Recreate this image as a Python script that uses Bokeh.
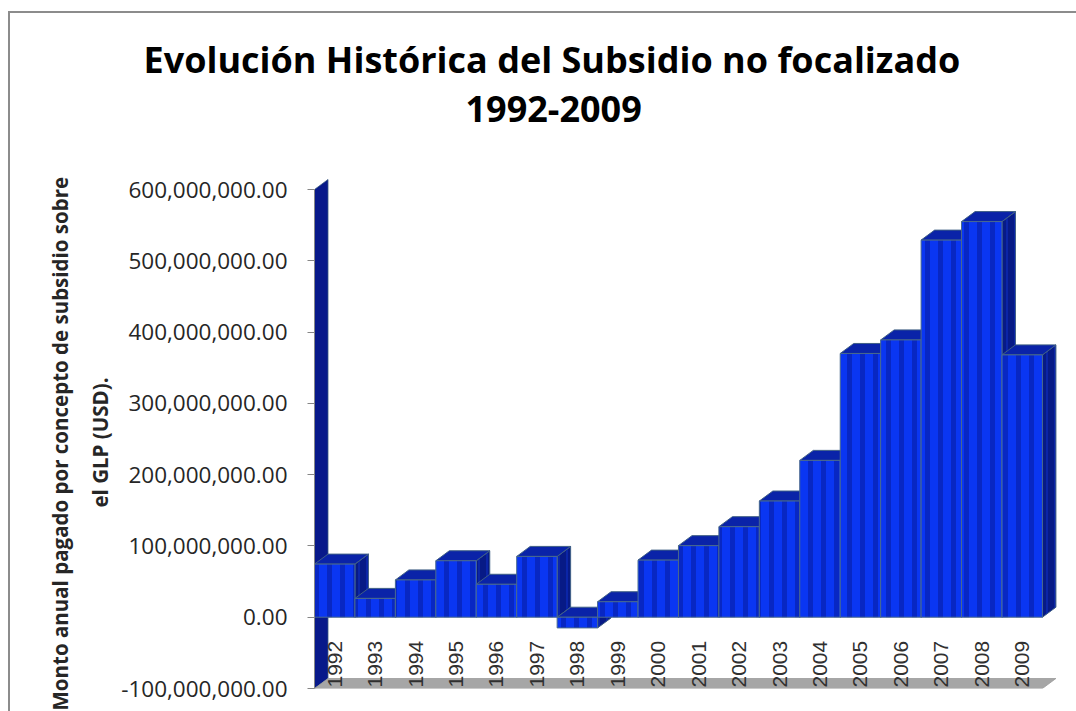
import numpy as np
from math import pi
from bokeh.plotting import figure
from bokeh.models import Range1d, FixedTicker, NumeralTickFormatter, Title
from bokeh.core.properties import value
from bokeh.embed import file_html
from bokeh.resources import INLINE

# ---------------- data ----------------
years = ["1992", "1993", "1994", "1995", "1996", "1997", "1998", "1999", "2000",
         "2001", "2002", "2003", "2004", "2005", "2006", "2007", "2008", "2009"]
subsidy_usd = [74.5e6, 26.4e6, 52.3e6, 79.2e6, 46.2e6, 85.3e6, -15.0e6, 21.7e6, 80.1e6,
               100.4e6, 127.0e6, 163.0e6, 220.0e6, 370.0e6, 389.0e6, 529.0e6, 555.0e6, 368.0e6]
y_ticks = [-100e6, 0, 100e6, 200e6, 300e6, 400e6, 500e6, 600e6]
title_line1 = "Evolución Histórica del Subsidio no focalizado"
title_line2 = "1992-2009"
y_title_line1 = "Monto anual pagado por concepto de subsidio sobre"
y_title_line2 = "el GLP (USD)."

# ---------------- geometry (layout only) ----------------
FRAME_LEFT, FRAME_TOP, FRAME_BOTTOM = 312, 124, 686   # window pixels
FRAME_W, FRAME_H = 748, FRAME_BOTTOM - FRAME_TOP
PX_PER_CAT = 40.44
PX_PER_VAL = 499.0 / 700e6
y_min = y_ticks[0]
y_end = y_min + FRAME_H / PX_PER_VAL
x_end = FRAME_W / PX_PER_CAT
DX = 13.5 / PX_PER_CAT        # 3-D depth, horizontal
DY = 10.0 / PX_PER_VAL        # 3-D depth, vertical

p = figure(width=1068, height=700, output_backend="svg", toolbar_location=None,
           x_range=Range1d(0, x_end), y_range=Range1d(y_min, y_end),
           x_axis_location=None, frame_width=FRAME_W, frame_height=FRAME_H,
           min_border_left=FRAME_LEFT - 8, min_border_right=16,
           min_border_top=FRAME_TOP - 11, min_border_bottom=25,
           background_fill_color="white", border_fill_color="white")
p.margin = (11, 0, 0, 8)
p.styles = {"border-top": "2px solid #8c8c8c", "border-left": "2px solid #8c8c8c"}
p.outline_line_color = None
p.xgrid.visible = False
p.ygrid.visible = False
p.title.visible = False

# chart title (two lines), left-aligned with offsets relative to the frame
p.add_layout(Title(text=title_line2, align="left", offset=463 - FRAME_LEFT,
                   text_font_size="36px", text_font="Open Sans", text_font_style="bold",
                   text_color="black"), "above")
p.add_layout(Title(text=title_line1, align="left", offset=141 - FRAME_LEFT,
                   text_font_size="36px", text_font="Open Sans", text_font_style="bold",
                   text_color="black"), "above")

ax = p.yaxis[0]
ax.ticker = FixedTicker(ticks=y_ticks)
ax.formatter = NumeralTickFormatter(format="0,0.00")
ax.bounds = (y_ticks[0], y_ticks[-1])
ax.major_tick_out = 7
ax.major_tick_in = 0
ax.minor_tick_line_color = None
ax.axis_line_color = "#868686"
ax.major_tick_line_color = "#868686"
ax.major_label_text_font = "Open Sans"
ax.major_label_text_font_size = "22.5px"
ax.major_label_text_color = "#262626"
ax.major_label_standoff = 20

# y-axis title as two rotated titles on the left
p.add_layout(Title(text=y_title_line2, align="left", offset=FRAME_BOTTOM - 505,
                   text_font_size="20.5px", text_font="Open Sans", text_font_style="bold",
                   text_color="#262626"), "left")
p.add_layout(Title(text=y_title_line1, align="left", offset=FRAME_BOTTOM - 708,
                   text_font_size="20.5px", text_font="Open Sans", text_font_style="bold",
                   text_color="#262626"), "left")

n = len(years)
xl = np.arange(n, dtype=float)
xr = xl + 1.0
v = np.array(subsidy_usd)
lo = np.minimum(v, 0.0)
hi = np.maximum(v, 0.0)

# left wall (edge) and floor
p.patch([0, 0, DX, DX], [y_min, y_ticks[-1], y_ticks[-1] + DY, y_min + DY],
        fill_color="#08198a", line_color="#3a5a80", line_width=0.8)
p.patch([0, n, n + DX, DX], [y_min, y_min, y_min + DY, y_min + DY],
        fill_color="#a6a6a6", line_color="#9a9a9a", line_width=0.8)

side_xs = [[a, a + DX, a + DX, a] for a in xr]
side_ys = [[b, b + DY, t + DY, t] for b, t in zip(lo, hi)]
top_xs = [[a, b, b + DX, a + DX] for a, b in zip(xl, xr)]
top_ys = [[t, t, t + DY, t + DY] for t in hi]

p.patches(side_xs, side_ys, fill_color="#071a86", line_color="#3f5f85", line_width=1,
          hatch_pattern="vertical_line", hatch_color="#1030c8", hatch_alpha=0.5,
          hatch_scale=8, hatch_weight=2)
p.patches(top_xs, top_ys, fill_color="#0a23a8", line_color="#3f5f85", line_width=1)
p.quad(left=xl, right=xr, bottom=lo, top=hi, fill_color="#0a36f2",
       line_color="#4a6a8c", line_width=1,
       hatch_pattern="vertical_line", hatch_color="#061c9c", hatch_alpha=0.55,
       hatch_scale=13, hatch_weight=5)

p.text(x=xl + 0.5, y=[y_min] * n, text=years, angle=pi / 2, text_align="left",
       text_baseline="middle", text_font=value("Liberation Sans"), text_font_size="21px",
       text_color="#303030", y_offset=-1)

open("out.html", "w").write(file_html(p, INLINE))
